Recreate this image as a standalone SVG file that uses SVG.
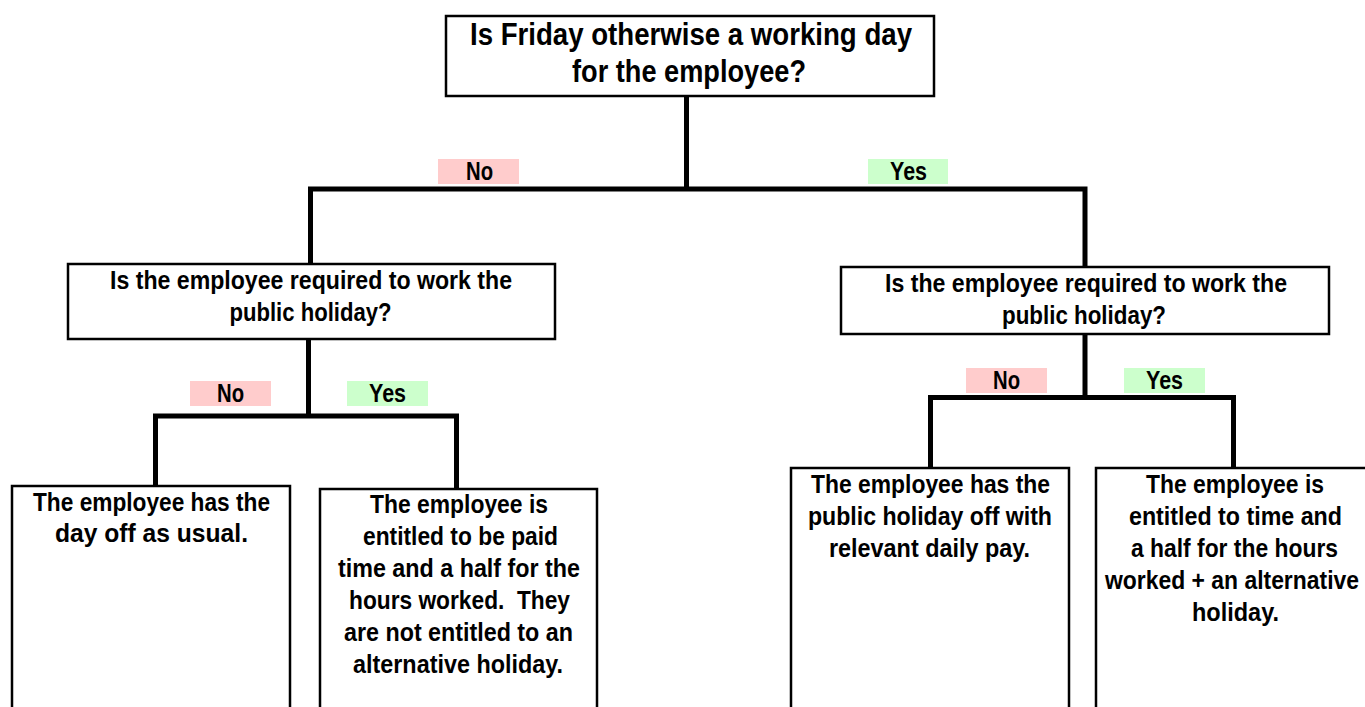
<svg xmlns="http://www.w3.org/2000/svg" width="1365" height="707" viewBox="0 0 1365 707">
<style>
  text { font-family: "Liberation Sans", Arial, sans-serif; font-weight: bold; fill: #000; text-anchor: middle; }
  .top { font-size: 32px; }
  .q { font-size: 25px; }
  .leaf { font-size: 25px; }
  .lbl { font-size: 25px; }
  .box { fill: #fff; stroke: #000; stroke-width: 2.5; }
  .conn { fill: none; stroke: #000; stroke-width: 5; stroke-linejoin: miter; stroke-linecap: square; }
  .no { fill: #ffcccc; }
  .yes { fill: #ccffcc; }
</style>
<rect width="1365" height="707" fill="#fff"/>
<g id="connectors">
  <path class="conn" d="M686.5 98 V189 M310.5 263 V189 H1085 V266"/>
  <path class="conn" d="M308.5 340 V416 M155.5 484 V416 H456.5 V487"/>
  <path class="conn" d="M1085 334 V397.5 M930.5 466 V397.5 H1233.5 V466"/>
</g>
<g id="labels">
  <rect class="no" x="438" y="159" width="81" height="25"/>
  <text class="lbl" x="479.5" y="180" textLength="27" lengthAdjust="spacingAndGlyphs">No</text>
  <rect class="yes" x="868" y="159" width="80" height="25"/>
  <text class="lbl" x="908.5" y="180" textLength="37" lengthAdjust="spacingAndGlyphs">Yes</text>
  <rect class="no" x="190" y="381" width="81" height="25"/>
  <text class="lbl" x="230.5" y="402" textLength="27" lengthAdjust="spacingAndGlyphs">No</text>
  <rect class="yes" x="347" y="381" width="81" height="25"/>
  <text class="lbl" x="387.5" y="402" textLength="37" lengthAdjust="spacingAndGlyphs">Yes</text>
  <rect class="no" x="966" y="368" width="81" height="25"/>
  <text class="lbl" x="1006.5" y="389" textLength="27" lengthAdjust="spacingAndGlyphs">No</text>
  <rect class="yes" x="1124" y="368" width="81" height="25"/>
  <text class="lbl" x="1164.5" y="389" textLength="37" lengthAdjust="spacingAndGlyphs">Yes</text>
</g>
<g id="q-friday">
  <rect class="box" x="446" y="16" width="488" height="80"/>
  <text class="top" x="691" y="45" textLength="442" lengthAdjust="spacingAndGlyphs">Is Friday otherwise a working day</text>
  <text class="top" x="689" y="82" textLength="234" lengthAdjust="spacingAndGlyphs">for the employee?</text>
</g>
<g id="q-left">
  <rect class="box" x="68" y="264" width="487" height="75"/>
  <text class="q" x="311" y="289" textLength="402" lengthAdjust="spacingAndGlyphs">Is the employee required to work the</text>
  <text class="q" x="310.5" y="321" textLength="162" lengthAdjust="spacingAndGlyphs">public holiday?</text>
</g>
<g id="q-right">
  <rect class="box" x="841" y="267" width="488" height="67"/>
  <text class="q" x="1086" y="292" textLength="402" lengthAdjust="spacingAndGlyphs">Is the employee required to work the</text>
  <text class="q" x="1084" y="324" textLength="164" lengthAdjust="spacingAndGlyphs">public holiday?</text>
</g>
<g id="leaf-dayoff">
  <rect class="box" x="12" y="486" width="278" height="240"/>
  <text class="leaf" x="151.5" y="511" textLength="237" lengthAdjust="spacingAndGlyphs">The employee has the</text>
  <text class="leaf" x="151.5" y="542" textLength="193" lengthAdjust="spacingAndGlyphs">day off as usual.</text>
</g>
<g id="leaf-timehalf">
  <rect class="box" x="320" y="489" width="277" height="240"/>
  <text class="leaf" x="459" y="513" textLength="178" lengthAdjust="spacingAndGlyphs">The employee is</text>
  <text class="leaf" x="460.5" y="545" textLength="195" lengthAdjust="spacingAndGlyphs">entitled to be paid</text>
  <text class="leaf" x="459" y="577" textLength="242" lengthAdjust="spacingAndGlyphs">time and a half for the</text>
  <text class="leaf" x="459.5" y="609" textLength="221" lengthAdjust="spacingAndGlyphs">hours worked.&#160; They</text>
  <text class="leaf" x="458.5" y="641" textLength="229" lengthAdjust="spacingAndGlyphs">are not entitled to an</text>
  <text class="leaf" x="458" y="673" textLength="210" lengthAdjust="spacingAndGlyphs">alternative holiday.</text>
</g>
<g id="leaf-paidoff">
  <rect class="box" x="791" y="468" width="278" height="260"/>
  <text class="leaf" x="930.5" y="493" textLength="239" lengthAdjust="spacingAndGlyphs">The employee has the</text>
  <text class="leaf" x="930" y="525" textLength="244" lengthAdjust="spacingAndGlyphs">public holiday off with</text>
  <text class="leaf" x="929.5" y="557" textLength="201" lengthAdjust="spacingAndGlyphs">relevant daily pay.</text>
</g>
<g id="leaf-alt">
  <rect class="box" x="1096" y="468" width="290" height="260"/>
  <text class="leaf" x="1235" y="493" textLength="178" lengthAdjust="spacingAndGlyphs">The employee is</text>
  <text class="leaf" x="1235.5" y="525" textLength="213" lengthAdjust="spacingAndGlyphs">entitled to time and</text>
  <text class="leaf" x="1234.5" y="557" textLength="207" lengthAdjust="spacingAndGlyphs">a half for the hours</text>
  <text class="leaf" x="1232" y="589" textLength="254" lengthAdjust="spacingAndGlyphs">worked + an alternative</text>
  <text class="leaf" x="1235.5" y="621" textLength="87" lengthAdjust="spacingAndGlyphs">holiday.</text>
</g>
</svg>
